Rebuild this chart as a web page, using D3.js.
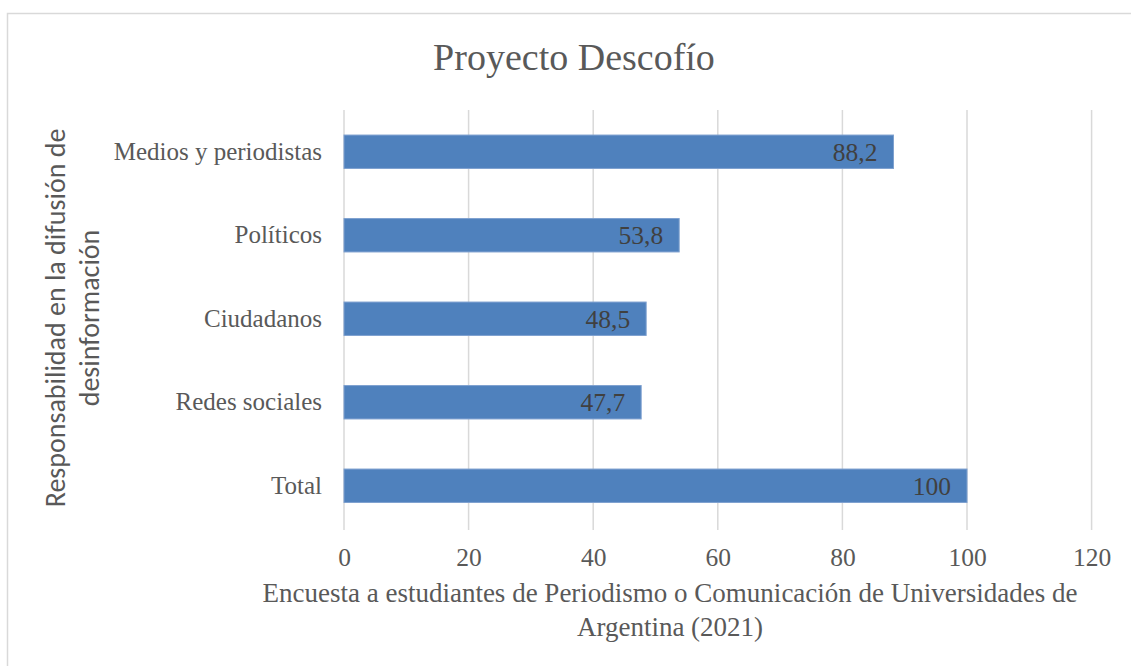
<!DOCTYPE html>
<html>
<head>
<meta charset="utf-8">
<script src="https://cdn.jsdelivr.net/npm/d3@7"></script>
<style>
  body { margin: 0; background: #fff; }
  .serif { font-family: "Liberation Serif", "DejaVu Serif", serif; }
</style>
</head>
<body>
<div id="chart"></div>
<script>
// data
var categories = ["Medios y periodistas", "Políticos", "Ciudadanos", "Redes sociales", "Total"];
var values = [88.2, 53.8, 48.5, 47.7, 100];
var valueLabels = ["88,2", "53,8", "48,5", "47,7", "100"];
var xTicks = [0, 20, 40, 60, 80, 100, 120];

var svgWidth = 1131;
var svgHeight = 666;
var margin = {top: 110, right: 39, bottom: 138, left: 344};

var svg = d3.select("#chart")
    .append("svg")
    .attr("width", svgWidth)
    .attr("height", svgHeight);

// outer frame
svg.append("rect")
    .attr("x", 7.5).attr("y", 13.5)
    .attr("width", 1140).attr("height", 680)
    .attr("fill", "none")
    .attr("stroke", "#d9d9d9")
    .attr("stroke-width", 1.5);

var chart = svg.append("g")
    .attr("transform", "translate(" + margin.left + "," + margin.top + ")");

var x = d3.scaleLinear().domain([0, 120]).range([0, 747.6]);
var y = d3.scaleBand().domain(categories).range([0, 417.5]).paddingInner(0.6).paddingOuter(0.3);

// gridlines
chart.selectAll(".grid")
    .data(xTicks)
    .enter()
    .append("line")
    .attr("x1", function(d) { return x(d); })
    .attr("x2", function(d) { return x(d); })
    .attr("y1", 0)
    .attr("y2", 420)
    .attr("stroke", "#d9d9d9")
    .attr("stroke-width", 1.5);

// bars
chart.selectAll(".bar")
    .data(values)
    .enter()
    .append("rect")
    .attr("x", x(0))
    .attr("y", function(d, i) { return y(categories[i]); })
    .attr("width", function(d) { return x(d) - x(0); })
    .attr("height", y.bandwidth())
    .attr("fill", "#4f81bd")
    .attr("stroke", "#7ea0cf")
    .attr("stroke-width", 1);

// value labels
chart.selectAll(".vlabel")
    .data(values)
    .enter()
    .append("text")
    .attr("class", "serif")
    .attr("x", function(d) { return x(d) - 16; })
    .attr("y", function(d, i) { return y(categories[i]) + y.bandwidth() / 2; })
    .attr("dy", "0.36em")
    .attr("text-anchor", "end")
    .attr("font-size", "25.5px")
    .attr("fill", "#404040")
    .text(function(d, i) { return valueLabels[i]; });

// category labels
var leftAxis = d3.axisLeft(y).tickSize(0).tickPadding(22);
var yAxis = chart.append("g").call(leftAxis);
yAxis.select(".domain").remove();
yAxis.selectAll("text")
    .attr("class", "serif")
    .attr("font-size", "25px")
    .attr("fill", "#595959");

// x tick labels
var bottomAxis = d3.axisBottom(x).tickValues(xTicks).tickSize(0).tickPadding(18);
var xAxis = chart.append("g")
    .attr("transform", "translate(0," + 420 + ")")
    .call(bottomAxis);
xAxis.select(".domain").remove();
xAxis.selectAll("text")
    .attr("class", "serif")
    .attr("font-size", "25.5px")
    .attr("fill", "#595959");

// title
svg.append("text")
    .attr("class", "serif")
    .attr("x", 574)
    .attr("y", 70)
    .attr("text-anchor", "middle")
    .attr("font-size", "38px")
    .attr("fill", "#595959")
    .text("Proyecto Descofío");

// x axis title
var xTitle = svg.append("text")
    .attr("class", "serif")
    .attr("text-anchor", "middle")
    .attr("font-size", "27px")
    .attr("fill", "#595959");
xTitle.append("tspan").attr("x", 670).attr("y", 602)
    .text("Encuesta a estudiantes de Periodismo o Comunicación de Universidades de");
xTitle.append("tspan").attr("x", 670).attr("y", 636)
    .text("Argentina (2021)");

// y axis title
var yTitle = svg.append("text")
    .attr("transform", "rotate(-90)")
    .attr("text-anchor", "middle")
    .attr("font-family", "Carlito, 'Liberation Sans', sans-serif")
    .attr("font-size", "28px")
    .attr("fill", "#595959");
yTitle.append("tspan").attr("x", -318).attr("y", 65)
    .text("Responsabilidad en la difusión de");
yTitle.append("tspan").attr("x", -318).attr("y", 99)
    .text("desinformación");
</script>
</body>
</html>
